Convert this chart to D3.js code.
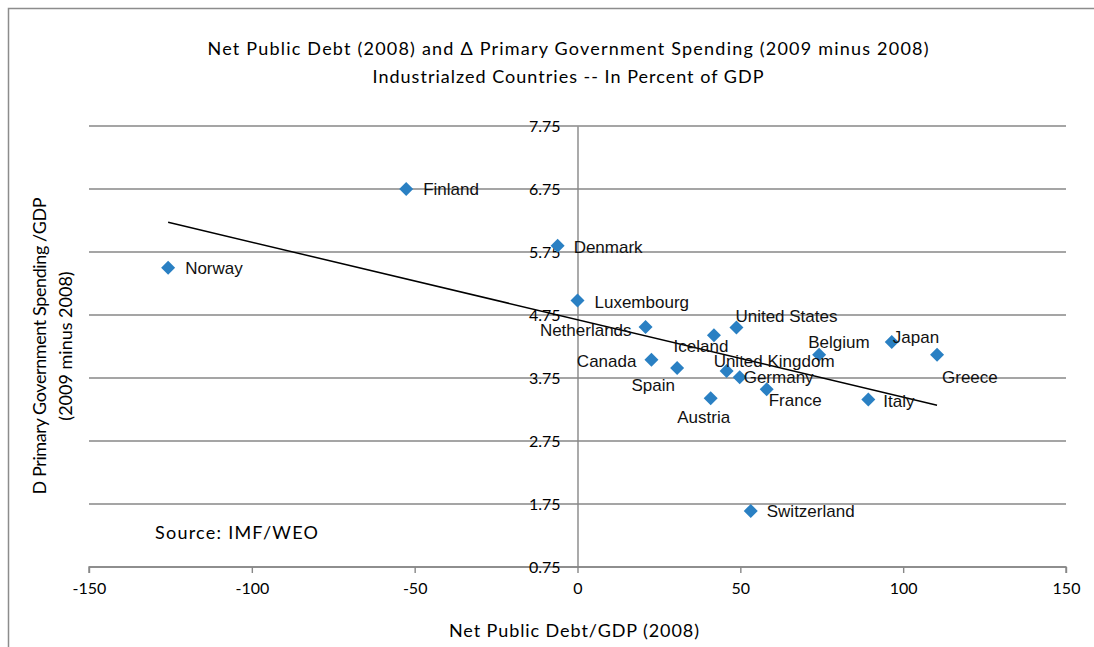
<!DOCTYPE html>
<html>
<head>
<meta charset="utf-8">
<script src="https://cdn.jsdelivr.net/npm/d3@7"></script>
<style>
  html, body { margin: 0; padding: 0; background: #fff; }
  svg { display: block; }
</style>
</head>
<body>
<svg id="chart" width="1094" height="647"></svg>
<script>
// Net public debt 2008 (% of GDP) vs change in primary spending 2009-2008 (% of GDP)
const countries = ["Norway", "Finland", "Denmark", "Luxembourg", "Netherlands", "Canada",
  "Spain", "Austria", "Iceland", "United Kingdom", "United States", "Germany",
  "Switzerland", "France", "Belgium", "Italy", "Japan", "Greece"];
const netDebt = [-125.7, -52.6, -6.1, 0, 20.9, 22.7, 30.6, 40.9, 41.9, 45.8, 48.8, 49.8,
  53.2, 58.1, 74.2, 89.3, 96.5, 110.4];
const spendingChange = [5.50, 6.75, 5.85, 4.98, 4.56, 4.04, 3.91, 3.43, 4.43, 3.86, 4.55, 3.76,
  1.64, 3.57, 4.12, 3.41, 4.32, 4.12];
const xTicks = [-150, -100, -50, 0, 50, 100, 150];
const yTicks = [0.75, 1.75, 2.75, 3.75, 4.75, 5.75, 6.75, 7.75];

// where each country's name sits relative to its marker
const labelPlacement = {
  "Norway":         {anchor: "start",  dx: 17,  dy: 0},
  "Finland":        {anchor: "start",  dx: 17,  dy: 0},
  "Denmark":        {anchor: "start",  dx: 16,  dy: 1},
  "Luxembourg":     {anchor: "start",  dx: 17,  dy: 1},
  "Netherlands":    {anchor: "end",    dx: -14, dy: 3},
  "Canada":         {anchor: "end",    dx: -15, dy: 1},
  "Spain":          {anchor: "middle", dx: -24, dy: 17},
  "Austria":        {anchor: "middle", dx: -7,  dy: 19},
  "Iceland":        {anchor: "middle", dx: -13, dy: 11},
  "United Kingdom": {anchor: "start",  dx: -13, dy: -10},
  "United States":  {anchor: "start",  dx: -1,  dy: -12},
  "Germany":        {anchor: "start",  dx: 4,   dy: 0},
  "Switzerland":    {anchor: "start",  dx: 16,  dy: 0},
  "France":         {anchor: "start",  dx: 2,   dy: 11},
  "Belgium":        {anchor: "start",  dx: -11, dy: -13},
  "Italy":          {anchor: "start",  dx: 15,  dy: 1},
  "Japan":          {anchor: "start",  dx: 1,   dy: -5},
  "Greece":         {anchor: "start",  dx: 5,   dy: 22}
};

const data = countries.map((c, i) => ({name: c, x: netDebt[i], y: spendingChange[i]}));

const svg = d3.select("#chart");
const W = 1094, H = 647;
const plot = {left: 89, right: 1066, top: 126, bottom: 567};

const x = d3.scaleLinear().domain([-150, 150]).range([plot.left, plot.right]);
const y = d3.scaleLinear().domain([0.75, 7.75]).range([plot.bottom, plot.top]);

const gridColor = "#878787";
const titleFont = "Lato, 'Open Sans', sans-serif";
const labelFont = "'Liberation Sans', Arial, sans-serif";

// chart frame
svg.append("path")
  .attr("d", `M8.5,${H} V8.5 H${W}`)
  .attr("fill", "none")
  .attr("stroke", "#8c8c8c")
  .attr("stroke-width", 1.5);

// horizontal gridlines
svg.append("g")
  .selectAll("line")
  .data(yTicks)
  .join("line")
  .attr("x1", plot.left).attr("x2", plot.right)
  .attr("y1", d => y(d)).attr("y2", d => y(d))
  .attr("stroke", gridColor)
  .attr("stroke-width", 1.4);

// x axis along the bottom (plain hyphen for negatives)
const xAxis = d3.axisBottom(x).tickValues(xTicks).tickSize(6).tickPadding(10)
  .tickFormat(d => String(d));
const gx = svg.append("g")
  .attr("transform", `translate(0,${plot.bottom})`)
  .call(xAxis);
gx.attr("font-size", null).attr("font-family", null);
gx.select(".domain").attr("stroke", gridColor).attr("stroke-width", 1.4)
  .attr("d", `M${plot.left},6V0H${plot.right}V6`);
gx.selectAll(".tick line").attr("stroke", gridColor).attr("stroke-width", 1.4);
gx.selectAll(".tick text")
  .style("font-family", titleFont)
  .style("font-size", "16px")
  .attr("fill", "#000");

// y axis crossing at x = 0
const yAxis = d3.axisLeft(y).tickValues(yTicks).tickSize(0).tickPadding(17)
  .tickFormat(d3.format(".2f"));
const gy = svg.append("g")
  .attr("transform", `translate(${x(0)},0)`)
  .call(yAxis);
gy.attr("font-size", null).attr("font-family", null);
gy.select(".domain").attr("stroke", gridColor).attr("stroke-width", 1.4);
gy.selectAll(".tick text")
  .style("font-family", titleFont)
  .style("font-size", "16px")
  .attr("fill", "#000");

// least-squares trend line across the data range
const mx = d3.mean(netDebt), my = d3.mean(spendingChange);
const sxy = d3.sum(netDebt, (v, i) => (v - mx) * (spendingChange[i] - my));
const sxx = d3.sum(netDebt, v => (v - mx) * (v - mx));
const slope = sxy / sxx, intercept = my - slope * mx;
const xr = d3.extent(netDebt);
svg.append("line")
  .attr("x1", x(xr[0])).attr("y1", y(intercept + slope * xr[0]))
  .attr("x2", x(xr[1])).attr("y2", y(intercept + slope * xr[1]))
  .attr("stroke", "#000")
  .attr("stroke-width", 1.5);

// country markers
svg.append("g")
  .selectAll("path")
  .data(data)
  .join("path")
  .attr("d", d3.symbol(d3.symbolSquare, 98))
  .attr("transform", d => `translate(${x(d.x)},${y(d.y)}) rotate(45)`)
  .attr("fill", "#2a80c3");

// country names
svg.append("g")
  .selectAll("text")
  .data(data)
  .join("text")
  .attr("x", d => x(d.x) + labelPlacement[d.name].dx)
  .attr("y", d => y(d.y) + labelPlacement[d.name].dy)
  .attr("dy", "0.36em")
  .attr("text-anchor", d => labelPlacement[d.name].anchor)
  .attr("font-family", labelFont)
  .attr("font-size", 17)
  .attr("fill", "#111")
  .text(d => d.name);

// titles
const title = svg.append("g")
  .attr("font-family", titleFont)
  .attr("font-size", 18)
  .attr("fill", "#000")
  .attr("text-anchor", "middle");
title.append("text").attr("x", 568).attr("y", 55)
  .attr("textLength", 721)
  .text("Net Public Debt (2008)  and \u0394 Primary Government Spending (2009 minus 2008)");
title.append("text").attr("x", 568).attr("y", 83)
  .attr("textLength", 391)
  .text("Industrialzed Countries -- In Percent of GDP");

svg.append("text")
  .attr("x", 574).attr("y", 631).attr("dy", "0.35em")
  .attr("text-anchor", "middle")
  .attr("font-family", titleFont).attr("font-size", 18)
  .attr("textLength", 250)
  .text("Net Public Debt/GDP (2008)");

const yTitle = svg.append("g")
  .attr("font-family", titleFont).attr("font-size", 18)
  .attr("text-anchor", "middle");
yTitle.append("text")
  .attr("transform", "translate(40,346) rotate(-90)")
  .attr("dy", "0.35em")
  .attr("textLength", 297)
  .text("D Primary Government Spending /GDP");
yTitle.append("text")
  .attr("transform", "translate(66,346) rotate(-90)")
  .attr("dy", "0.35em")
  .text("(2009 minus 2008)");

svg.append("text")
  .attr("x", 155).attr("y", 533).attr("dy", "0.35em")
  .attr("font-family", titleFont).attr("font-size", 18)
  .attr("textLength", 163)
  .text("Source: IMF/WEO");
</script>
</body>
</html>
